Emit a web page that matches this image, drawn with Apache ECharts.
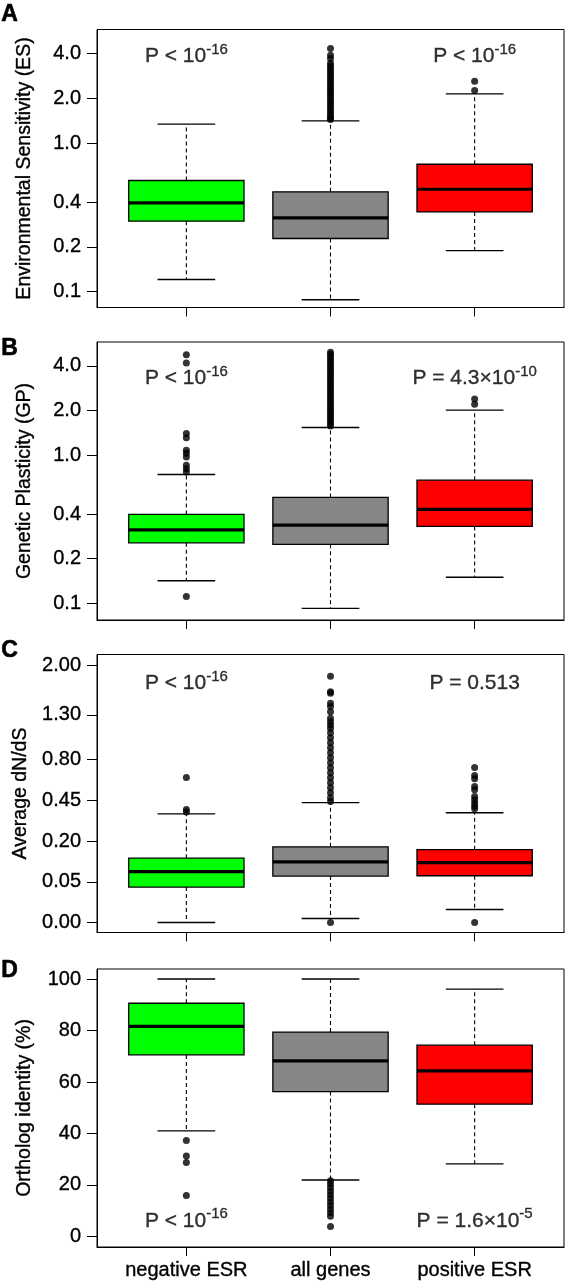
<!DOCTYPE html>
<html>
<head>
<meta charset="utf-8">
<script src="https://cdn.jsdelivr.net/npm/echarts@6/dist/echarts.min.js"></script>
<style>
html,body{margin:0;padding:0;background:#fff;}
#c{width:566px;height:1284px;}
</style>
</head>
<body>
<div id="c"></div>
<script>
// ---------- DATA ----------
const categories = ['negative ESR', 'all genes', 'positive ESR'];

// box stats: [lower whisker, Q1, median, Q3, upper whisker]
// Panel A: Environmental Sensitivity (ES)
const esNeg = [0.121, 0.298, 0.396, 0.56, 1.34];
const esAll = [0.0883, 0.228, 0.314, 0.47, 1.41];
const esPos = [0.189, 0.344, 0.489, 0.72, 2.14];
const esNegOut = [];
const esAllOut = [1.44, 1.47, 1.52, 1.58, 1.64, 1.71, 1.78, 1.85, 1.92, 2.00, 2.08, 2.16, 2.24, 2.33, 2.42, 2.52, 2.62, 2.72, 2.83, 2.94, 3.06, 3.18, 3.31, 3.44, 3.70, 3.89, 4.32];
const esPosOut = [2.26, 2.60];
const esTicks = [0.1, 0.2, 0.4, 1.0, 2.0, 4.0];
const esTickLabels = ['0.1', '0.2', '0.4', '1.0', '2.0', '4.0'];

// Panel B: Genetic Plasticity (GP)
const gpNeg = [0.142, 0.256, 0.313, 0.398, 0.74];
const gpAll = [0.0925, 0.25, 0.337, 0.518, 1.535];
const gpPos = [0.15, 0.33, 0.43, 0.677, 2.01];
const gpNegOut = [0.111, 0.77, 0.81, 0.855, 0.97, 1.03, 1.08, 1.31, 1.40, 4.18, 4.76];
const gpAllOut = [1.57, 1.63, 1.69, 1.75, 1.82, 1.89, 1.96, 2.04, 2.12, 2.20, 2.29, 2.38, 2.48, 2.58, 2.68, 2.78, 2.89, 3.01, 3.13, 3.25, 3.38, 3.51, 3.65, 3.80, 3.95, 4.10, 4.26, 4.43, 4.61, 4.79, 4.95];
const gpPosOut = [2.20, 2.39];
const gpTicks = [0.1, 0.2, 0.4, 1.0, 2.0, 4.0];
const gpTickLabels = ['0.1', '0.2', '0.4', '1.0', '2.0', '4.0'];

// Panel C: Average dN/dS
const dnNeg = [0, 0.038, 0.078, 0.125, 0.356];
const dnAll = [0.0005, 0.065, 0.111, 0.173, 0.434];
const dnPos = [0.0051, 0.066, 0.108, 0.16, 0.364];
const dnNegOut = [0.369, 0.385, 0.635];
const dnAllOut = [0, 0.441, 0.47, 0.509, 0.548, 0.59, 0.632, 0.677, 0.723, 0.77, 0.819, 0.869, 0.921, 0.974, 1.029, 1.085, 1.139, 1.178, 1.217, 1.259, 1.341, 1.406, 1.45, 1.585, 1.607, 1.83];
const dnPosOut = [0, 0.391, 0.407, 0.431, 0.455, 0.48, 0.532, 0.559, 0.624, 0.653, 0.725];
const dnTicks = [0, 0.05, 0.2, 0.45, 0.8, 1.3, 2.0];
const dnTickLabels = ['0.00', '0.05', '0.20', '0.45', '0.80', '1.30', '2.00'];

// Panel D: Ortholog identity (%)
const oiNeg = [41.0, 70.5, 81.6, 90.6, 100];
const oiAll = [21.9, 56.3, 68.2, 79.4, 100];
const oiPos = [28.2, 51.4, 64.3, 74.3, 96.1];
const oiNegOut = [15.9, 28.7, 31.3, 37.3];
const oiAllOut = [3.9, 7.8, 9.2, 10.6, 12.0, 13.4, 14.8, 16.2, 17.6, 19.0, 20.4, 21.6];
const oiPosOut = [];
const oiTicks = [0, 20, 40, 60, 80, 100];
const oiTickLabels = ['0', '20', '40', '60', '80', '100'];

// P-value annotations: [main text, superscript]
const esPvals = [['P < 10', '-16'], ['P < 10', '-16']];
const gpPvals = [['P < 10', '-16'], ['P = 4.3\u00d710', '-10']];
const dnPvals = [['P < 10', '-16'], ['P = 0.513', '']];
const oiPvals = [['P < 10', '-16'], ['P = 1.6\u00d710', '-5']];

// ---------- LAYOUT / STYLE ----------
const FONT = '"Liberation Sans", Arial, Helvetica, sans-serif';
const boxColors = ['#00ff00', '#868686', '#ff0000'];
const log10 = v => Math.log10(v);
const sqrt = v => Math.sqrt(v);
const ident = v => v;

const panels = [
  { letter: 'A', letterTop: 3, title: 'Environmental Sensitivity (ES)', tf: log10, min: -1.106, max: 0.7635, top: 29.5,
    stats: [esNeg, esAll, esPos], outs: [esNegOut, esAllOut, esPosOut], ticks: esTicks, tickLabels: esTickLabels, pvals: esPvals, pY: 3.83 },
  { letter: 'B', letterTop: 336.5, title: 'Genetic Plasticity (GP)', tf: log10, min: -1.1125, max: 0.763, top: 342,
    stats: [gpNeg, gpAll, gpPos], outs: [gpNegOut, gpAllOut, gpPosOut], ticks: gpTicks, tickLabels: gpTickLabels, pvals: gpPvals, pY: 3.30 },
  { letter: 'C', letterTop: 638.5, title: 'Average dN/dS', tf: sqrt, min: -0.0547, max: 1.472, top: 654.5,
    stats: [dnNeg, dnAll, dnPos], outs: [dnNegOut, dnAllOut, dnPosOut], ticks: dnTicks, tickLabels: dnTickLabels, pvals: dnPvals, pY: 1.73 },
  { letter: 'D', letterTop: 958.5, title: 'Ortholog identity (%)', tf: ident, min: -4.1, max: 103.9, top: 969,
    stats: [oiNeg, oiAll, oiPos], outs: [oiNegOut, oiAllOut, oiPosOut], ticks: oiTicks, tickLabels: oiTickLabels, pvals: oiPvals, pY: 6.1 }
];

const TXT = { color: '#000', fontFamily: FONT, textBorderColor: '#000', textBorderWidth: 0.35 };
const grids = [], xAxes = [], yAxes = [], series = [], graphics = [];

panels.forEach((p, i) => {
  grids.push({ left: 97, right: 2, top: p.top, height: 278, show: true, borderColor: '#000', borderWidth: 1, backgroundColor: 'transparent' });
  xAxes.push({
    gridIndex: i, type: 'value', min: 0.38, max: 3.62,
    axisLine: { show: true, onZero: false, lineStyle: { color: '#000', width: 1 } },
    splitLine: { show: false },
    axisTick: { show: true, length: 9, customValues: [1, 2, 3], lineStyle: { color: '#000', width: 1 } },
    axisLabel: Object.assign({ show: i === 3, customValues: [1, 2, 3], margin: 13, fontSize: 20,
      formatter: v => categories[Math.round(v) - 1] || '' }, TXT)
  });
  const tv = p.ticks.map(p.tf);
  yAxes.push({
    gridIndex: i, type: 'value', min: p.min, max: p.max,
    name: p.title, nameLocation: 'middle', nameRotate: 90, nameGap: 62,
    nameTextStyle: Object.assign({ fontSize: 19.5 }, TXT),
    axisLine: { show: true, onZero: false, lineStyle: { color: '#000', width: 1 } },
    splitLine: { show: false },
    axisTick: { show: true, length: 10, customValues: tv, lineStyle: { color: '#000', width: 1 } },
    axisLabel: Object.assign({ customValues: tv, margin: 16, fontSize: 20,
      formatter: v => {
        let best = 0, bd = Infinity;
        tv.forEach((t, k) => { const d = Math.abs(t - v); if (d < bd) { bd = d; best = k; } });
        return p.tickLabels[best];
      } }, TXT)
  });

  // boxes
  series.push({
    type: 'custom', xAxisIndex: i, yAxisIndex: i, silent: true, animation: false, z: 2,
    encode: { x: 0, y: [1, 2, 3, 4, 5] },
    data: p.stats.map((s, k) => [k + 1].concat(s.map(p.tf))),
    renderItem: (params, api) => {
      const x = api.value(0);
      const lo = api.coord([x, api.value(1)]);
      const q1 = api.coord([x, api.value(2)]);
      const md = api.coord([x, api.value(3)]);
      const q3 = api.coord([x, api.value(4)]);
      const hi = api.coord([x, api.value(5)]);
      const bw = api.size([0.8, 0])[0];
      const cw = bw / 2;
      const cx = lo[0];
      const col = boxColors[params.dataIndex];
      const dash = { stroke: '#000', lineWidth: 1.1, lineDash: [4, 3] };
      const solid = { stroke: '#000', lineWidth: 1.4 };
      return {
        type: 'group',
        children: [
          { type: 'line', shape: { x1: cx, y1: q3[1], x2: cx, y2: hi[1] }, style: dash },
          { type: 'line', shape: { x1: cx, y1: q1[1], x2: cx, y2: lo[1] }, style: dash },
          { type: 'line', shape: { x1: cx - cw / 2, y1: hi[1], x2: cx + cw / 2, y2: hi[1] }, style: solid },
          { type: 'line', shape: { x1: cx - cw / 2, y1: lo[1], x2: cx + cw / 2, y2: lo[1] }, style: solid },
          { type: 'rect', shape: { x: cx - bw / 2, y: q3[1], width: bw, height: q1[1] - q3[1] }, style: { fill: col, stroke: '#000', lineWidth: 1.3 } },
          { type: 'line', shape: { x1: cx - bw / 2, y1: md[1], x2: cx + bw / 2, y2: md[1] }, style: { stroke: '#000', lineWidth: 3.2 } }
        ]
      };
    }
  });

  // outliers
  const outData = [];
  p.outs.forEach((arr, k) => arr.forEach(v => outData.push([k + 1, p.tf(v)])));
  series.push({
    type: 'scatter', xAxisIndex: i, yAxisIndex: i, silent: true, animation: false, z: 3,
    symbol: 'circle', symbolSize: 7, itemStyle: { color: '#000' }, data: outData
  });

  // P-value annotations
  series.push({
    type: 'scatter', xAxisIndex: i, yAxisIndex: i, silent: true, animation: false, z: 4,
    symbolSize: 0,
    data: [0, 1].map(k => ({
      value: [k === 0 ? 1 : 3, p.tf(p.pY)],
      label: {
        show: true, position: 'inside', color: '#000',
        formatter: '{a|' + p.pvals[k][0] + '}' + (p.pvals[k][1] ? '{s|' + p.pvals[k][1] + '}' : ''),
        rich: {
          a: Object.assign({ fontSize: 21, lineHeight: 28 }, TXT),
          s: Object.assign({ fontSize: 15, lineHeight: 15, verticalAlign: 'top' }, TXT)
        }
      }
    }))
  });

  graphics.push({ type: 'text', left: 1, top: p.letterTop, style: { text: p.letter, font: 'bold 23px ' + FONT, fill: '#000', stroke: '#000', lineWidth: 0.6 } });
});

const chart = echarts.init(document.getElementById('c'), null, { renderer: 'canvas' });
chart.setOption({
  animation: false,
  backgroundColor: '#fff',
  grid: grids, xAxis: xAxes, yAxis: yAxes, series: series, graphic: graphics
});
</script>
</body>
</html>
